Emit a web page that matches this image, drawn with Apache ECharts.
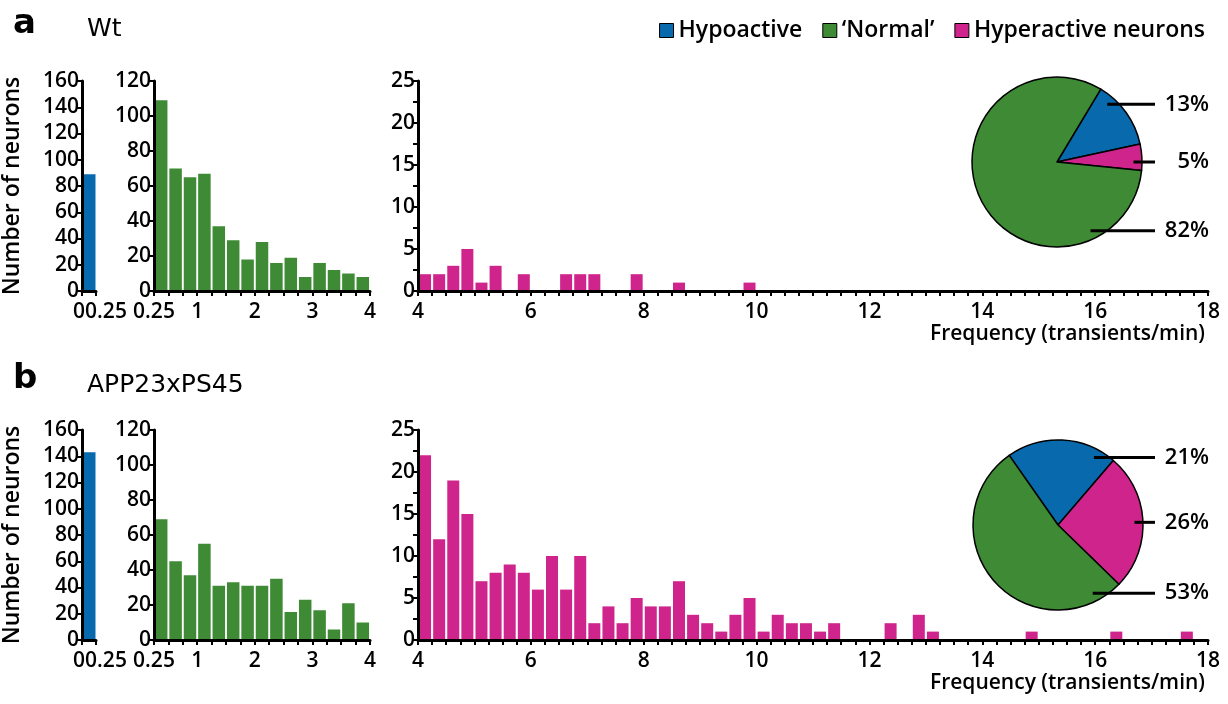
<!DOCTYPE html>
<html>
<head>
<meta charset="utf-8">
<title>Neuron activity</title>
<script src="https://cdn.jsdelivr.net/npm/echarts@6/dist/echarts.min.js"></script>
<style>
  html, body { margin: 0; padding: 0; background: #fff; }
  #chart { width: 1228px; height: 704px; }
</style>
</head>
<body>
<div id="chart"></div>
<script>
// histogram bins are 0.25 transients/min wide
var binWidth = 0.25
var hypoStart = 0
var normalStart = 0.25
var hyperStart = 4

var groupNames = ['Wt', 'APP23xPS45']
var sliceNames = ['Hypoactive', '\u2018Normal\u2019', 'Hyperactive neurons']

// Wt counts per bin
var wtHypo = [89]
var wtNormal = [109, 70, 65, 67, 37, 29, 18, 28, 16, 19, 8, 16, 12, 10, 8]
var wtHyper = [
  2, 2, 3, 5, 1, 3, 0, 2, 0, 0, 2, 2,
  2, 0, 0, 2, 0, 0, 1, 0,
  0, 0, 0, 1, 0, 0, 0, 0,
  0, 0, 0, 0, 0, 0, 0, 0,
  0, 0, 0, 0, 0, 0, 0, 0,
  0, 0, 0, 0, 0, 0, 0, 0,
  0, 0, 0, 0
]
// APP23xPS45 counts per bin
var appHypo = [143]
var appNormal = [69, 45, 37, 55, 31, 33, 31, 31, 35, 16, 23, 17, 6, 21, 10]
var appHyper = [
  22, 12, 19, 15, 7, 8, 9, 8, 6, 10, 6, 10,
  2, 4, 2, 5, 4, 4, 7, 3,
  2, 1, 3, 5, 1, 3, 2, 2,
  1, 2, 0, 0, 0, 2, 0, 3,
  1, 0, 0, 0, 0, 0, 0, 1,
  0, 0, 0, 0, 0, 1, 0, 0,
  0, 0, 1, 0
]

// pie percentages, order: hypo, hyper, normal
var wtPie = [13, 5, 82]
var appPie = [21, 26, 53]

var blue = '#0869ac'
var green = '#3e8a35'
var pink = '#cf248b'
var font = 'Open Sans'
var font2 = 'DejaVu Sans'

// layout
var rowTops = [81, 430]
var rowHeight = 210
var pieCenters = [[1057, 162], [1058, 525]]
var pieRadius = 85
var pieStart = [59, 125]
// angle (deg) where each leader line leaves its slice
var pieAnchorAngles = [[49, 0, -64], [62, 2, -63]]
var leaderEnd = 1155
var labelRight = 1209

function bins(start, counts) {
  return counts.map(function(c, i) {
    return [start + (i + 0.5) * binWidth, c]
  })
}

function anchorPoint(r, i) {
  var c = pieCenters[r]
  var a = pieAnchorAngles[r][i] * Math.PI / 180
  return [c[0] + 0.9 * pieRadius * Math.cos(a), c[1] - 0.9 * pieRadius * Math.sin(a)]
}

function axisBase(grid) {
  return {
    type: 'value',
    gridIndex: grid,
    z: 5,
    splitLine: { show: false },
    axisLine: { show: true, onZero: false, lineStyle: { color: '#000', width: 3 } },
    axisTick: { show: true, length: 5, lineStyle: { color: '#000', width: 2 } },
    axisLabel: {
      color: '#000', fontFamily: font, fontWeight: 600, fontSize: 21,
      showMinLabel: true, showMaxLabel: true, hideOverlap: false
    }
  }
}

var grids = []
var xAxes = []
var yAxes = []
var series = []
var leaders = []

var rows = [
  [wtHypo, wtNormal, wtHyper, wtPie],
  [appHypo, appNormal, appHyper, appPie]
]

rows.forEach(function(row, r) {
  var top = rowTops[r]
  var g = r * 3
  grids.push(
    { left: 82, top: top, width: 14, height: rowHeight, outerBoundsMode: 'none' },
    { left: 154, top: top, width: 216, height: rowHeight, outerBoundsMode: 'none' },
    { left: 418, top: top, width: 790, height: rowHeight, outerBoundsMode: 'none' }
  )

  // hypoactive
  var x0 = axisBase(g)
  x0.min = 0
  x0.max = 0.25
  x0.interval = 0.25
  x0.axisLabel.margin = 11
  x0.axisLabel.formatter = function(v) { return v === 0 ? '{z|0}' : '{q|0.25}' }
  x0.axisLabel.rich = {
    z: { fontFamily: font, fontWeight: 600, fontSize: 21, color: '#000', padding: [0, 6, 0, 0] },
    q: { fontFamily: font, fontWeight: 600, fontSize: 21, color: '#000', padding: [0, 0, 0, 20] }
  }
  var y0 = axisBase(g)
  y0.min = 0
  y0.max = 160
  y0.interval = 20
  y0.axisLabel.margin = 3
  y0.name = 'Number of neurons'
  y0.nameLocation = 'middle'
  y0.nameRotate = 90
  y0.nameGap = 58
  y0.nameTextStyle = { color: '#000', fontFamily: font, fontWeight: 600, fontSize: 23 }

  // normal
  var x1 = axisBase(g + 1)
  x1.min = 0.25
  x1.max = 4
  x1.interval = 0.25
  x1.axisLabel.margin = 11
  x1.axisLabel.formatter = function(v) { return (v === 0.25 || v % 1 === 0) ? String(v) : '' }
  var y1 = axisBase(g + 1)
  y1.min = 0
  y1.max = 120
  y1.interval = 20
  y1.axisLabel.margin = 3

  // hyperactive
  var x2 = axisBase(g + 2)
  x2.min = 4
  x2.max = 18
  x2.interval = 0.25
  x2.axisLabel.margin = 11
  x2.axisLabel.formatter = function(v) { return v % 2 === 0 ? String(v) : '' }
  var y2 = axisBase(g + 2)
  y2.min = 0
  y2.max = 25
  y2.interval = 2.5
  y2.axisLabel.margin = 3
  y2.axisLabel.formatter = function(v) { return v % 5 === 0 ? String(v) : '' }

  xAxes.push(x0, x1, x2)
  yAxes.push(y0, y1, y2)

  series.push({
    type: 'bar', xAxisIndex: g, yAxisIndex: g, barWidth: 13,
    itemStyle: { color: blue }, data: bins(hypoStart, row[0])
  }, {
    type: 'bar', xAxisIndex: g + 1, yAxisIndex: g + 1, barWidth: 12.5,
    itemStyle: { color: green }, data: bins(normalStart, row[1])
  }, {
    type: 'bar', xAxisIndex: g + 2, yAxisIndex: g + 2, barWidth: 12,
    itemStyle: { color: pink }, data: bins(hyperStart, row[2])
  })

  series.push({
    type: 'pie',
    name: groupNames[r],
    center: pieCenters[r],
    radius: pieRadius,
    startAngle: pieStart[r],
    clockwise: true,
    z: 6,
    avoidLabelOverlap: false,
    itemStyle: { borderColor: '#000', borderWidth: 1.5 },
    label: {
      show: true, position: 'outside', formatter: '{c}%', overflow: 'none',
      color: '#000', fontFamily: font, fontWeight: 600, fontSize: 22
    },
    labelLine: { show: false },
    labelLayout: function(p) {
      return { x: labelRight, y: anchorPoint(r, p.dataIndex)[1], align: 'right', verticalAlign: 'middle' }
    },
    data: [
      { name: sliceNames[0], value: row[3][0], itemStyle: { color: blue } },
      { name: sliceNames[2], value: row[3][1], itemStyle: { color: pink } },
      { name: sliceNames[1], value: row[3][2], itemStyle: { color: green } }
    ]
  })

  // leader lines from inside each slice out to its label
  row[3].forEach(function(v, i) {
    var p = anchorPoint(r, i)
    leaders.push({
      type: 'line',
      z: 100,
      shape: { x1: p[0], y1: p[1], x2: leaderEnd, y2: p[1] },
      style: { stroke: '#000', lineWidth: 3 }
    })
  })
})

var titleStyle = { color: '#000', fontFamily: font2, fontWeight: 'normal', fontSize: 25 }
var letterStyle = { color: '#000', fontFamily: font2, fontWeight: 'bold', fontSize: 34 }
var nameStyle = { color: '#000', fontFamily: font, fontWeight: 600, fontSize: 21 }

var chart = echarts.init(document.getElementById('chart'))
chart.setOption({
  animation: false,
  backgroundColor: '#fff',
  title: [
    { text: 'a', left: 8, top: 2, textStyle: letterStyle },
    { text: groupNames[0], left: 82, top: 12, textStyle: titleStyle },
    { text: 'b', left: 8, top: 357, textStyle: letterStyle },
    { text: groupNames[1], left: 82, top: 368, textStyle: titleStyle },
    { text: 'Frequency (transients/min)', right: 18, top: 319, textStyle: nameStyle },
    { text: 'Frequency (transients/min)', right: 18, top: 668, textStyle: nameStyle }
  ],
  legend: {
    data: sliceNames,
    right: 18,
    top: 14,
    icon: 'rect',
    itemWidth: 14,
    itemHeight: 14,
    itemGap: 20,
    itemStyle: { borderColor: '#000', borderWidth: 1 },
    textStyle: { color: '#000', fontFamily: font, fontWeight: 600, fontSize: 23 }
  },
  grid: grids,
  xAxis: xAxes,
  yAxis: yAxes,
  series: series,
  graphic: leaders
})
</script>
</body>
</html>
